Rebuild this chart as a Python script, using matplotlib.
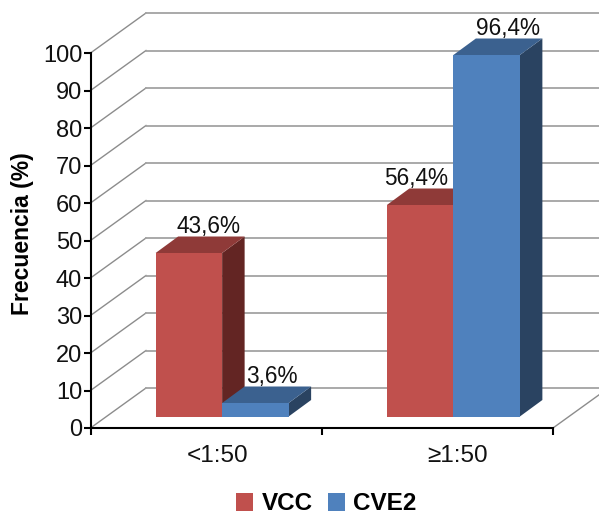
import matplotlib
matplotlib.use('Agg')
import matplotlib.pyplot as plt
from matplotlib.patches import Polygon, Patch

plt.rcParams['font.family'] = ['Liberation Sans', 'DejaVu Sans']

categories = ['<1:50', '\u22651:50']
series_names = ['VCC', 'CVE2']
vcc = [43.6, 56.4]
cve2 = [3.6, 96.4]
labels_vcc = ['43,6%', '56,4%']
labels_cve2 = ['3,6%', '96,4%']
y_ticks = list(range(0, 101, 10))

W, H = 599, 516
fig = plt.figure(figsize=(W / 100, H / 100), dpi=100)
#axes box is the front plane of the fake 3d chart
left, right, top, bottom = 90.5, 553, 53, 428
ax = fig.add_axes([left / W, 1 - bottom / H, (right - left) / W, (bottom - top) / H])
ax.set_xlim(-0.5, 1.5)
ax.set_ylim(0, 100)

px = (right - left) / 2       # pixels per category
py = (bottom - top) / 100     # pixels per percent

#back wall offset
wall_dx, wall_dy = 55.5 / px, 40 / py
#bars sit a bit into the depth, with their own depth
bar_dx, bar_dy = 22.5 / px, 16.5 / py
base_dy = 11.5 / py
group_shift = 16 / px
bar_w = 66.5 / px

#gridlines, on the wall and the left side
for t in y_ticks:
    ax.plot([-0.5, -0.5 + wall_dx], [t, t + wall_dy], color='#8c8c8c', lw=1, clip_on=False, zorder=1)
    ax.plot([-0.5 + wall_dx, 1.5 + wall_dx], [t + wall_dy, t + wall_dy], color='#a3a3a3', lw=1.3,
            clip_on=False, zorder=1)
ax.plot([1.5, 1.5 + wall_dx], [0, wall_dy], color='#8c8c8c', lw=1, clip_on=False, zorder=1)


def bar3d(x0, value, front, side, cap):
    x1 = x0 + bar_w
    b = base_dy
    t = base_dy + value
    ax.add_patch(Polygon([(x1, b), (x1 + bar_dx, b + bar_dy), (x1 + bar_dx, t + bar_dy), (x1, t)],
                         fc=side, ec='none', zorder=3, clip_on=False))
    ax.add_patch(Polygon([(x0, t), (x1, t), (x1 + bar_dx, t + bar_dy), (x0 + bar_dx, t + bar_dy)],
                         fc=cap, ec='none', zorder=3, clip_on=False))
    ax.add_patch(Polygon([(x0, b), (x1, b), (x1, t), (x0, t)], fc=front, ec='none', zorder=3,
                         clip_on=False))


#label nudges in points
vcc_nudge = [6, -11]
cve2_nudge = [4, 7]
for i in range(len(categories)):
    x_mid = i + group_shift
    bar3d(x_mid - bar_w, vcc[i], '#C0504D', '#632523', '#8F3A38')
    bar3d(x_mid, cve2[i], '#4F81BD', '#2A4361', '#3B618F')
    ax.annotate(labels_vcc[i], (x_mid - bar_w / 2 + bar_dx / 2, vcc[i] + base_dy + bar_dy),
                xytext=(vcc_nudge[i], 7.5), textcoords='offset points', ha='center', va='center',
                fontsize=16.3, color='#111111', annotation_clip=False, zorder=5)
    ax.annotate(labels_cve2[i], (x_mid + bar_w / 2 + bar_dx / 2, cve2[i] + base_dy + bar_dy),
                xytext=(cve2_nudge[i], 7.5), textcoords='offset points', ha='center', va='center',
                fontsize=16.3, color='#111111', annotation_clip=False, zorder=5)

for s in ['top', 'right']:
    ax.spines[s].set_visible(False)
for s in ['left', 'bottom']:
    ax.spines[s].set_linewidth(1.5)

ax.set_yticks(y_ticks)
ax.tick_params(axis='y', labelsize=17, length=5, width=1.5, pad=1, labelcolor='#111111')
#major x ticks mark the category edges, the labels are minor ticks
ax.set_xticks([-0.5, 0.5, 1.5])
ax.set_xticklabels([])
ax.tick_params(axis='x', which='major', length=5, width=1.5)
ax.set_xticks([0 + 11 / px, 1 + 20 / px], minor=True)
ax.set_xticklabels(categories, minor=True)
ax.tick_params(axis='x', which='minor', length=0, labelsize=17.5, pad=12, labelcolor='#111111')

fig.text(23 / W, 1 - 234 / H, 'Frecuencia (%)', rotation=90, ha='center', va='center',
         fontsize=16.5, fontweight='bold', color='black')

handles = [Patch(fc='#C0504D', ec='none'), Patch(fc='#4F81BD', ec='none')]
fig.legend(handles, series_names, loc='center', bbox_to_anchor=(326.5 / W, 1 - 504 / H), ncol=2,
           frameon=False, prop={'size': 17.5, 'weight': 'bold'}, handlelength=0.7, handleheight=0.7,
           handletextpad=0.35, columnspacing=0.6, borderpad=0, borderaxespad=0)

fig.savefig('out.png', dpi=100)
